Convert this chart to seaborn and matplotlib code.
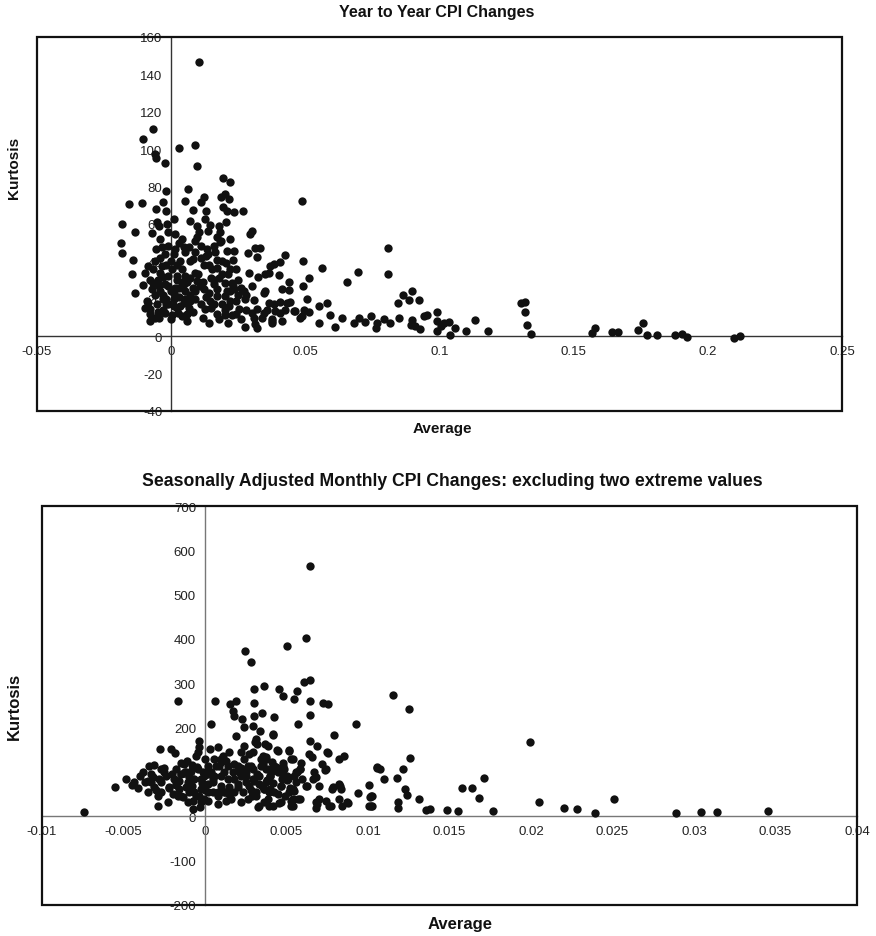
"""
Kurtosis vs average of CPI changes: year-to-year and seasonally adjusted
monthly series (two stacked scatter charts, Excel-like styling).
Saves out.png
"""
import numpy as np
import pandas as pd
import matplotlib
matplotlib.use("Agg")
import matplotlib.pyplot as plt
import seaborn as sns
from matplotlib.patches import Rectangle
from matplotlib.ticker import FuncFormatter

# ---- data ----
# top chart: year to year CPI changes
yy_avg = [
    0.0102, -0.0106, -0.0068, -0.0062, -0.0056, -0.0022, 0.003, 0.0087, 0.0095, -0.002,
    0.0061, -0.0156, -0.011, -0.0031, -0.0056, -0.0019, 0.0052, 0.0083, 0.0112, 0.0124,
    0.013, 0.0192, 0.0219, 0.0187, 0.0202, 0.0216, 0.0193, 0.0208, 0.0233, 0.0266,
    0.0488, -0.0184, -0.0134, -0.0187, -0.0184, -0.0053, -0.0044, -0.0016, 0.0011, -0.001,
    0.0015, 0.004, 0.0071, 0.0096, 0.0102, 0.0098, 0.009, 0.0127, 0.0146, 0.0139,
    0.0177, 0.0183, 0.0205, 0.022, 0.0292, 0.0301, 0.0187, -0.0056, -0.0035, -0.0022,
    0.0015, 0.0046, 0.0065, 0.0083, 0.0133, 0.0158, 0.0139, 0.0164, 0.0183, 0.0208,
    0.0233, 0.0285, 0.0313, 0.033, 0.032, 0.0425, 0.049, -0.0141, -0.0147, -0.0106,
    -0.0134, -0.0085, -0.0097, -0.0066, -0.0035, 0.0, 0.0034, 0.004, 0.0002, -0.0029,
    -0.0066, -0.0047, -0.0022, 0.0021, 0.0052, 0.0046, 0.0015, 0.0087, 0.0096, 0.0124,
    0.0152, 0.017, 0.0205, 0.022, 0.0243, 0.0108, 0.0121, 0.0158, 0.017, 0.0202,
    0.0226, 0.0208, 0.0233, 0.0289, 0.0322, 0.0351, 0.0369, 0.0382, 0.0403, 0.0438,
    0.049, 0.0513, 0.0562, 0.0656, 0.0697, 0.0807, 0.0807, -0.0085, -0.0097, -0.0078,
    -0.0053, -0.0029, -0.001, 0.0009, 0.0034, -0.0022, 0.0002, 0.0027, -0.0078, -0.0047,
    0.0, 0.0046, 0.0071, 0.0065, 0.0127, 0.0146, 0.017, 0.0202, 0.0214, 0.0202,
    0.0226, 0.0251, 0.0276, 0.0276, 0.0313, 0.0301, 0.032, 0.0345, 0.0345, 0.0363,
    0.0382, 0.0376, 0.0407, 0.0413, 0.0432, 0.0438, 0.0457, 0.0488, 0.0506, 0.0513,
    0.055, 0.055, 0.0581, 0.0593, 0.0612, 0.0637, 0.068, 0.0699, 0.0724, 0.0743,
    0.0768, 0.0817, 0.0848, 0.0846, 0.0765, 0.0864, 0.0898, 0.0885, 0.0925, 0.0898,
    0.091, 0.0941, 0.0954, 0.0991, 0.0989, 0.1004, 0.1038, 0.1035, 0.1056, 0.11,
    0.0404, 0.0363, 0.0351, 0.0413, 0.031, 0.0407, 0.0444, 0.0357, 0.0388, 0.0425,
    0.0463, 0.0494, 0.0307, 0.0338, 0.0376, 0.0481, 0.032, 0.0376, 0.0892, 0.0929,
    0.0989, 0.1016, 0.1134, 0.118, 0.1302, 0.1317, 0.1318, 0.1327, 0.1342, 0.1567,
    0.158, 0.1644, 0.1667, 0.174, 0.176, 0.1775, 0.1812, 0.1878, 0.1905, 0.1924,
    0.2098, 0.212, 0.0792,
    -0.006, -0.004, -0.002, 0.001, 0.003, 0.005, 0.007, -0.008, -0.006, -0.003,
    0.002, 0.004, 0.006, 0.008, -0.005, -0.001, 0.002, 0.006, 0.009, 0.011,
    0.013, 0.015, 0.017, 0.019, 0.022, 0.024, 0.026, 0.028, 0.016, 0.019,
    0.023, 0.025, 0.012, 0.014, 0.018, 0.021, -0.004, -0.002, 0.001, 0.003,
    0.005, 0.007, 0.011, 0.014, 0.017, -0.007, -0.004, -0.001,
    -0.009, -0.007, -0.005, -0.003, -0.001, 0.001, 0.003, 0.005, 0.007, 0.009,
    -0.008, -0.006, -0.004, -0.002, 0.0, 0.002, 0.004, 0.006, 0.008, 0.010,
    0.012, 0.014, 0.016, 0.018, 0.020, 0.022, 0.024, 0.026, 0.028, 0.030,
    0.013, 0.015, 0.017, 0.019, 0.021, 0.023, 0.025, 0.027, 0.011, 0.009,
]
yy_kurt = [
    146.4, 105.7, 111, 97.3, 95.5, 92.6, 100.9, 102, 90.9, 77.6,
    78.7, 70.8, 71.3, 71.7, 68.1, 67.2, 72.2, 67.7, 71.9, 74.7,
    67.2, 84.6, 82.4, 74.7, 76.2, 73.5, 69, 67.2, 66.3, 66.8,
    72.2, 60, 55.9, 49.8, 44.3, 61, 58.8, 60, 62.7, 55.6,
    54.7, 52, 61.8, 59.1, 55.6, 52.9, 51.1, 62.7, 59.5, 56.4,
    59.1, 55.6, 61.3, 52, 54.7, 56.4, 51.1, 46.6, 47.5, 43.9,
    46.6, 47.5, 47.8, 41.2, 46.6, 48.4, 43.9, 44.8, 50.2, 45.7,
    45.7, 44.3, 47, 47.3, 42.1, 43.5, 40, 40.9, 33, 27.6,
    23.3, 37.6, 34, 35.8, 37.3, 40.3, 40.3, 36.2, 35.8, 31.4,
    28.7, 26.9, 27.8, 32.3, 32.3, 27.8, 26, 34, 29.6, 38,
    35.8, 36.7, 39.4, 36.2, 35.8, 26.9, 25.1, 27.8, 25.1, 28.7,
    28.7, 24.2, 25.1, 33.7, 31.7, 33.2, 37.6, 38.5, 32.6, 29,
    26.9, 31, 36.6, 29.2, 34.2, 47, 33.3, 17.9, 15.2, 14.3,
    17, 19.7, 17, 19.7, 16.1, 12.5, 11.6, 12.5, 8.1, 9.9,
    9, 17.9, 18.8, 15.2, 14.3, 18.8, 21.5, 21.5, 16.1, 11.6,
    11.6, 14.3, 19.7, 5, 6.3, 12.5, 14.3, 12.5, 23.3, 17.9,
    17, 8.1, 12.5, 8.1, 17.9, 24.7, 13.4, 10.8, 19.7, 12.9,
    6.8, 16.1, 17.5, 11.3, 4.8, 9.5, 7.2, 9.9, 7.7, 10.8,
    7.2, 7.2, 9.9, 17.9, 4.5, 22.2, 24, 19.3, 19.5, 8.8,
    5.5, 10.9, 11.3, 13.2, 8.2, 5.5, 0.5, 7.7, 4.6, 2.7,
    39.8, 33.6, 24, 25.2, 19.5, 18.4, 18.4, 14.1, 13.6, 13.9,
    13.6, 14.1, 10, 9.5, 9.1, 10, 4.6, 7, 5.9, 3.8,
    2.9, 7.3, 8.8, 2.7, 17.5, 18.1, 13, 6.1, 1.4, 1.6,
    4.3, 2.3, 2.3, 3.2, 6.8, 0.7, 0.9, 0.7, 1.1, -0.4,
    -0.7, 0, 9,
    22, 24, 20, 23, 21, 24, 22, 12, 10, 14,
    15, 11, 8, 13, 30, 32, 30, 29, 20, 17,
    21, 15, 12, 17, 19, 12, 9, 14, 30, 33,
    27, 22, 10, 7, 9, 7, 42, 38, 44, 50,
    45, 40, 42, 38, 41, 55, 52, 48,
    19, 25, 13, 22, 27, 16, 26, 20, 31, 24,
    30, 40, 34, 17, 24, 38, 29, 12, 26, 33,
    29, 23, 17, 31, 14, 24, 19, 26, 22, 27,
    43, 31, 53, 40, 33, 41, 30, 24, 48, 45,
]

# bottom chart: seasonally adjusted monthly CPI changes
sa_avg = [
    -0.00745, -0.00555, -0.00484, -0.00437, -0.00412, -0.00371, -0.00351, -0.00341, -0.00314, -0.0033,
    -0.0031, -0.00286, -0.00275, -0.0029, -0.0027, -0.0025, -0.00228, -0.00208, -0.00182, -0.00167,
    -0.00218, -0.00198, -0.00188, -0.00178, -0.00157, -0.00147, -0.00137, -0.00126, -0.0011, -0.00106,
    -0.00096, -0.00086, -0.00075, -0.00065, -0.00055, -0.00045, -0.00039, -0.00035, -0.00029, -0.00024,
    -0.00014, -0.00004, 0.00002, 0.00016, 0.00027, 0.00033, 0.00037, 0.00047, 0.00057, 0.00063,
    0.00078, 0.00088, 0.00098, 0.00108, 0.00118, 0.00129, 0.00139, 0.00149, 0.00155, 0.00169,
    0.00175, 0.0019, 0.0018, 0.0019, 0.002, 0.0021, 0.0022, 0.00226, 0.00237, 0.00241,
    0.00247, 0.00251, 0.00261, 0.00271, 0.00282, 0.00288, 0.00292, 0.00298, 0.00302, 0.00302,
    0.00312, 0.00322, 0.00326, 0.00333, 0.00339, 0.00349, 0.00363, 0.00353, 0.00363, 0.00373,
    0.00384, 0.00394, 0.00404, 0.00414, 0.0042, 0.00424, 0.00445, 0.00455, 0.00465, 0.00481,
    0.00475, 0.00506, 0.00516, 0.00526, 0.00537, 0.00543, 0.00567, 0.00571, 0.00557, 0.00583,
    0.00608, 0.00618, 0.00628, 0.00639, 0.00645, 0.00645, 0.00645, 0.00645, 0.00643, 0.00659,
    0.00669, 0.00679, 0.00685, 0.0069, 0.007, 0.00724, 0.00757, 0.0075, 0.0074, 0.00761,
    0.00787, 0.00792, 0.00822, 0.00828, 0.00843, 0.00853, 0.00873, 0.00928, 0.0094, 0.01006,
    0.01026, 0.01026, 0.01057,
    0.01249, 0.01054, 0.01075, 0.01101, 0.01214, 0.01177, 0.0123, 0.01238, 0.01259, 0.01183,
    0.01183, 0.0102, 0.0102, 0.01312, 0.01357, 0.01382, 0.01483, 0.01555, 0.01576, 0.01637,
    0.01684, 0.01709, 0.01766, 0.01995, 0.02048, 0.02201, 0.02284, 0.0239, 0.02512, 0.02891,
    0.03044, 0.03142, 0.03453, 0.01152, 0.00753, 0.01013, 0.01009,
    0.00682, 0.00744, 0.00774, 0.00825, 0.00836, 0.00825, 0.00876, 0.0078, 0.00682, 0.00702,
    0.00661, 0.00739, 0.00719, 0.00617, 0.0056, 0.0058, 0.00539, 0.00518, 0.0059, 0.00539,
    0.00539, 0.00529, 0.00488, 0.00457, 0.00467, 0.00477, 0.00508, 0.00437, 0.0044, 0.00416,
    0.00371, 0.00375, 0.00355, 0.00396, 0.00365, 0.00314, 0.00334, 0.00293, 0.00283, 0.00304,
    0.00396, 0.00416,
    -0.0027, -0.00239, -0.00178, -0.00147, -0.00116, -0.00082, -0.00055, -0.00041, -0.00024, -0.00004,
    0.00016, 0.00037, 0.00047, 0.00067, 0.00078, 0.00098, 0.00118, 0.00139, 0.00149, 0.00169,
    0.0018, 0.002, 0.0022, 0.00231, 0.00251, 0.00271, 0.00292, 0.00312, 0.00333, 0.00343,
    0.00373, 0.00394, 0.00424, 0.00445, 0.00465, 0.00486, 0.00516, 0.00526, 0.00547, 0.00567,
    0.00598, 0.00016, 0.00078, 0.00159, 0.0022, 0.00261, 0.00363, 0.00394, -0.00024, -0.00075,
    -0.00106, -0.00167, -0.0027, -0.0033, -0.00157, -0.00116, -0.00065, -0.00035, -0.00008, 0.00016,
    0.00057, 0.00098, 0.00129, 0.00241, 0.00292, 0.00343, 0.00373, 0.00424, 0.00481, 0.00506,
    0.00547, 0.00571, 0.00384,
    -0.0045, -0.004, -0.0035, -0.003, -0.0025, -0.002, -0.0015, -0.001, -0.0005, 0.0,
    0.0005, 0.001, 0.0015, 0.002, 0.0025, 0.003, 0.0035, 0.004, 0.0045, 0.005,
    -0.0038, -0.0028, -0.0018, -0.0008, 0.0002, 0.0012, 0.0022, 0.0032, 0.0042, 0.0052,
    -0.0032, -0.0022, -0.0012, -0.0002, 0.0008, 0.0018, 0.0028, 0.0038, 0.0048, 0.0058,
]
sa_kurt = [
    10.5, 65.5, 84.3, 78.3, 63.2, 76.8, 54.2, 114.4, 116, 95.6,
    65.5, 22.6, 152, 46.7, 76.8, 99.4, 31.6, 152, 143, 259.7,
    65.5, 50.4, 84.3, 106.9, 61.7, 95.6, 42.9, 118.2, 125.7, 76.8,
    54.2, 103.1, 35.4, 84.3, 137, 144.5, 170.9, 155.8, 20.3, 61.7,
    99.4, 39.1, 129.5, 73, 103.1, 152, 208.5, 54.2, 91.8, 259.7,
    155.8, 114.4, 69.3, 137, 99.4, 35.4, 84.3, 144.5, 253.7, 238.6,
    225.8, 261.2, 54.2, 182.2, 114.4, 99.4, 144.5, 219.8, 201, 159.6,
    372.6, 76.8, 114.4, 140.8, 347, 46.7, 204.8, 287.6, 256, 227.3,
    174.7, 163.4, 20.3, 91.8, 193.5, 232.6, 293.6, 137, 61.7, 106.9,
    159.6, 54.2, 99.4, 122, 184.4, 225.1, 148.3, 287.6, 31.6, 272.5,
    84.3, 383.2, 150.6, 129.5, 24.1, 265, 282.3, 208.5, 76.8, 106.9,
    304.1, 402.7, 69.3, 140.8, 308.6, 261.2, 229.6, 169.4, 564.6, 133.2,
    99.4, 88.1, 159.6, 27.9, 39.1, 256, 253.7, 144.5, 106.9, 24.1,
    65.5, 184.4, 129.5, 69.3, 24.1, 137, 31.6, 208.5, 51.9, 70.8,
    46.7, 24.1, 110.7,
    242, 110, 106, 85, 106, 87.5, 61, 47.5, 130.5, 32.4,
    19.6, 46, 23, 40, 14.3, 15.8, 14.3, 12, 65, 65,
    42.3, 87.5, 12, 166.7, 33.2, 19.6, 15.8, 8.3, 38.5, 6.8,
    9.8, 9.8, 12, 273.8, 142.5, 44.6, 23.3,
    32.4, 34.6, 23.3, 72.4, 61, 38.5, 31, 62.7, 19.7, 68.6,
    83.7, 104, 117.6, 68.6, 98.9, 106.3, 129, 147.7, 120, 61,
    38.5, 23.3, 46, 31, 68.6, 91.2, 83.7, 110.2, 150, 185.5,
    163, 129, 117.6, 91.2, 61, 46, 23.3, 83.7, 113.8, 166.7,
    61, 23.3,
    106.9, 91.8, 73, 46.7, 99.4, 69.3, 46.7, 106.9, 84.3, 69.3,
    54.2, 99.4, 76.8, 114.4, 54.2, 91.8, 54.2, 114.4, 65.5, 99.4,
    84.3, 65.5, 91.8, 54.2, 99.4, 69.3, 106.9, 54.2, 73, 114.4,
    76.8, 106.9, 54.2, 99.4, 69.3, 106.9, 54.2, 35.4, 57.2, 99.4,
    84.3, 35.4, 27.8, 39.1, 31.6, 39.1, 31.6, 24.1, 31.6, 16.6,
    31.6, 46.7, 54.2, 76.8, 80.6, 65.5, 54.2, 46.7, 91.8, 114.4,
    129.5, 129.5, 125.7, 129.5, 144.5, 129.5, 133.2, 114.4, 114.4, 91.8,
    91.8, 39.1, 39.1,
    70, 90, 80, 60, 110, 95, 120, 88, 112, 60,
    85, 122, 50, 72, 90, 80, 68, 92, 50, 82,
    100, 85, 70, 115, 95, 55, 110, 95, 75, 65,
    88, 65, 100, 75, 45, 118, 60, 83, 120, 40,
]

yy_xticks = [-0.05, 0, 0.05, 0.1, 0.15, 0.2, 0.25]
yy_yticks = [-40, -20, 0, 20, 40, 60, 80, 100, 120, 140, 160]
sa_xticks = [-0.01, -0.005, 0, 0.005, 0.01, 0.015, 0.02, 0.025, 0.03, 0.035, 0.04]
sa_yticks = [-200, -100, 0, 100, 200, 300, 400, 500, 600, 700]

yy = pd.DataFrame({"Average": yy_avg, "Kurtosis": yy_kurt})
sa = pd.DataFrame({"Average": sa_avg, "Kurtosis": sa_kurt})

sns.set_style("white")
plt.rcParams["font.family"] = ["Liberation Sans", "DejaVu Sans"]

W, H = 876, 937
fig = plt.figure(figsize=(W / 100, H / 100), dpi=100)


def px_box(left, top, right, bottom):
    # axes rectangle given in picture pixels
    return [left / W, 1 - bottom / H, (right - left) / W, (bottom - top) / H]


def style_axes(ax, xticks, yticks, axis_color):
    ax.set_xlim(xticks[0], xticks[-1])
    ax.set_ylim(yticks[0], yticks[-1])
    ax.set_xticks(xticks)
    ax.set_yticks(yticks)
    fmt = FuncFormatter(lambda v, pos: "%g" % round(v, 6))
    ax.xaxis.set_major_formatter(fmt)
    ax.yaxis.set_major_formatter(fmt)
    # Excel style: axes cross at zero
    ax.spines["left"].set_position(("data", 0))
    ax.spines["bottom"].set_position(("data", 0))
    ax.spines["top"].set_visible(False)
    ax.spines["right"].set_visible(False)
    for s in ("left", "bottom"):
        ax.spines[s].set_color(axis_color)
        ax.spines[s].set_linewidth(1.0)
    ax.tick_params(axis="both", direction="out", length=3.5, width=0.9,
                   color=axis_color, labelsize=9.5, labelcolor="#222222", pad=3)
    ax.set_xlabel("")
    ax.set_ylabel("")
    ax.add_patch(Rectangle((0, 0), 1, 1, transform=ax.transAxes, fill=False,
                           edgecolor="#111111", linewidth=1.6, clip_on=False, zorder=5))


ax1 = fig.add_axes(px_box(37, 38, 842, 412))
sns.scatterplot(data=yy, x="Average", y="Kurtosis", ax=ax1, s=36,
                color="#111111", edgecolor="#111111", linewidth=0, zorder=3)
style_axes(ax1, yy_xticks, yy_yticks, "#333333")

ax2 = fig.add_axes(px_box(42, 507, 857, 906))
sns.scatterplot(data=sa, x="Average", y="Kurtosis", ax=ax2, s=36,
                color="#111111", edgecolor="#111111", linewidth=0, zorder=3)
style_axes(ax2, sa_xticks, sa_yticks, "#777777")

bold = dict(fontweight="bold", color="#111111", ha="center", va="center")
fig.text(437 / W, 1 - 12 / H, "Year to Year CPI Changes", fontsize=11.5, **bold)
fig.text(452 / W, 1 - 481 / H,
         "Seasonally Adjusted Monthly CPI Changes: excluding two extreme values",
         fontsize=12.7, **bold)
fig.text(442 / W, 1 - 429 / H, "Average", fontsize=11, **bold)
fig.text(460 / W, 1 - 925 / H, "Average", fontsize=12, **bold)
fig.text(14 / W, 1 - 168 / H, "Kurtosis", rotation=90, fontsize=11, **bold)
fig.text(14 / W, 1 - 706 / H, "Kurtosis", rotation=90, fontsize=12, **bold)

fig.savefig("out.png", dpi=100)
plt.close(fig)
print("Saved out.png")
